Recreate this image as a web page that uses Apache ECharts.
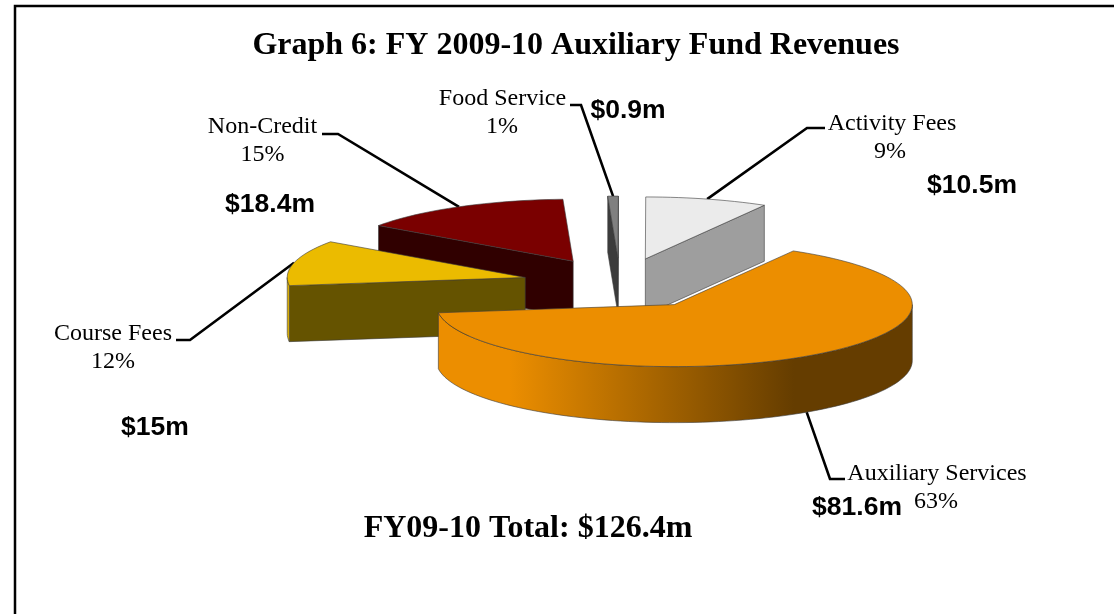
<!DOCTYPE html>
<html>
<head>
<meta charset="utf-8">
<title>Graph 6</title>
<script src="https://cdn.jsdelivr.net/npm/echarts@6/dist/echarts.min.js"></script>
<style>
    html, body { margin: 0; padding: 0; background: #fff; overflow: hidden; }
    #chart { width: 1114px; height: 614px; }
</style>
</head>
<body>
<div id="chart"></div>
<script>
    // clockwise from the first slice, as excel laid them out
    const categories = ['Auxiliary Services', 'Course Fees', 'Non-Credit', 'Food Service', 'Activity Fees'];
    const revenues = [81.6, 15, 18.4, 0.9, 10.5];
    const percents = [63, 12, 15, 1, 9];
    const amounts = ['$81.6m', '$15m', '$18.4m', '$0.9m', '$10.5m'];
    const titleText = 'Graph 6: FY 2009-10 Auxiliary Fund Revenues';
    const totalText = 'FY09-10 Total: $126.4m';

    const topColors = ['#EC8E00', '#EBBB00', '#7A0000', '#808080', '#EBEBEB'];
    const wallColors = ['#653D00', '#655300', '#300000', '#3C3C3C', '#9E9E9E'];

    // pie geometry on screen
    const CX = 620, CY = 283.5, RX = 238, RY = 62, DEPTH = 56;
    const EXPLODE = 0.41, START_DEG = 60;
    const rad = d => d * Math.PI / 180;

    const total = revenues.reduce((a, b) => a + b, 0);
    let cursor = START_DEG;
    const slices = categories.map((name, i) => {
        const a1 = cursor;
        const a2 = cursor - revenues[i] / total * 360;
        cursor = a2;
        const mid = (a1 + a2) / 2;
        return {
            i, a1, a2, mid,
            x: CX + EXPLODE * RX * Math.cos(rad(mid)),
            y: CY - EXPLODE * RY * Math.sin(rad(mid))
        };
    });
    const onRim = (s, deg) => [s.x + RX * Math.cos(rad(deg)), s.y - RY * Math.sin(rad(deg))];
    const down = p => [p[0], p[1] + DEPTH];

    // arc points from a1 clockwise to a2
    const arcPts = (s, from, to) => {
        const pts = [];
        const n = Math.max(2, Math.ceil(Math.abs(from - to) / 2));
        for (let k = 0; k <= n; k++) pts.push(onRim(s, from + (to - from) * k / n));
        return pts;
    };

    // front part of the rim: sin < 0, which is 180..360 below the start angle
    const frontRanges = s => {
        const out = [];
        [[0, -180], [-180, -360], [360, 180]].forEach(r => {
            const hi = Math.min(s.a1, r[0]);
            const lo = Math.max(s.a2, r[1]);
            if (hi > lo && Math.sin(rad((hi + lo) / 2)) < 0) out.push([hi, lo]);
        });
        return out;
    };

    const edge = '#3a3a3a';
    const renderSlice = (params) => {
        const s = drawOrder[params.dataIndex];
        const children = [];
        const apex = [s.x, s.y];
        const wall = (pts, fill) => children.push({
            type: 'polygon',
            shape: { points: pts },
            style: { fill, stroke: edge, lineWidth: 0.6 }
        });
        // cut faces, only those turned to the viewer
        [[s.a1, Math.cos(rad(s.a1)) < 0], [s.a2, Math.cos(rad(s.a2)) > 0]].forEach(f => {
            if (!f[1]) return;
            const p = onRim(s, f[0]);
            wall([apex, p, down(p), down(apex)], wallColors[s.i]);
        });
        // rim
        frontRanges(s).forEach(r => {
            const pts = arcPts(s, r[0], r[1]);
            const fill = s.i === 0
                ? new echarts.graphic.LinearGradient(0, 0, 1, 0, [
                    { offset: 0, color: topColors[0] },
                    { offset: 0.15, color: topColors[0] },
                    { offset: 0.75, color: wallColors[0] },
                    { offset: 1, color: wallColors[0] }
                ])
                : topColors[s.i];
            wall(pts.concat(pts.slice().reverse().map(down)), fill);
        });
        // top
        wall([apex].concat(arcPts(s, s.a1, s.a2)), topColors[s.i]);
        return { type: 'group', children };
    };

    const drawOrder = slices.slice().sort((a, b) => a.y - b.y);

    const serif = '"Liberation Serif", "Times New Roman", serif';
    const sans = '"Liberation Sans", Arial, sans-serif';

    const leader = (i, bendA, bendB, onWall) => {
        const s = slices[i];
        let p = onRim(s, s.mid);
        if (onWall) p = down(p);
        return {
            type: 'polyline',
            shape: { points: [p, bendA, bendB] },
            style: { stroke: '#000', lineWidth: 2.6, fill: null }
        };
    };
    const nameLabel = (text, x, y) => ({
        type: 'text', x, y: y + 2,
        style: { text, font: '24px ' + serif, fill: '#000', textAlign: 'center', textVerticalAlign: 'middle' }
    });
    const amountLabel = (text, x, y) => ({
        type: 'text', x, y: y + 2,
        style: { text, font: 'bold 26.5px ' + sans, fill: '#000', textAlign: 'center', textVerticalAlign: 'middle' }
    });

    const graphics = [
        {
            type: 'rect',
            shape: { x: 15, y: 6, width: 1300, height: 800 },
            style: { fill: '#fff', stroke: '#000', lineWidth: 2.5 },
            z: -1
        },
        leader(4, [807, 128], [825, 128]),
        leader(2, [338, 134], [322, 134]),
        leader(1, [190, 340], [176, 340]),
        leader(3, [581, 105], [570, 105]),
        leader(0, [830, 479], [845, 479], true),
        nameLabel(categories[4], 892, 122),
        nameLabel(percents[4] + '%', 890, 150),
        nameLabel(categories[2], 262.5, 125),
        nameLabel(percents[2] + '%', 262.5, 153),
        nameLabel(categories[3], 502.5, 97),
        nameLabel(percents[3] + '%', 502, 125),
        nameLabel(categories[1], 113, 332),
        nameLabel(percents[1] + '%', 113, 360),
        nameLabel(categories[0], 937, 472),
        nameLabel(percents[0] + '%', 936, 500),
        amountLabel(amounts[4], 972, 184),
        amountLabel(amounts[2], 270, 203),
        amountLabel(amounts[3], 628, 109),
        amountLabel(amounts[1], 155, 426),
        amountLabel(amounts[0], 857, 506),
        {
            type: 'text', x: 576, y: 46,
            style: { text: titleText, font: 'bold 32px ' + serif, fill: '#000', textAlign: 'center', textVerticalAlign: 'middle' }
        },
        {
            type: 'text', x: 528, y: 529,
            style: { text: totalText, font: 'bold 32px ' + serif, fill: '#000', textAlign: 'center', textVerticalAlign: 'middle' }
        }
    ];

    const myChart = echarts.init(document.getElementById('chart'), null, { renderer: 'canvas' });
    myChart.setOption({
        animation: false,
        backgroundColor: '#fff',
        graphic: graphics,
        series: [{
            type: 'custom',
            coordinateSystem: 'none',
            renderItem: renderSlice,
            data: drawOrder.map(s => ({ name: categories[s.i], value: revenues[s.i] })),
            silent: true
        }]
    });
</script>
</body>
</html>
